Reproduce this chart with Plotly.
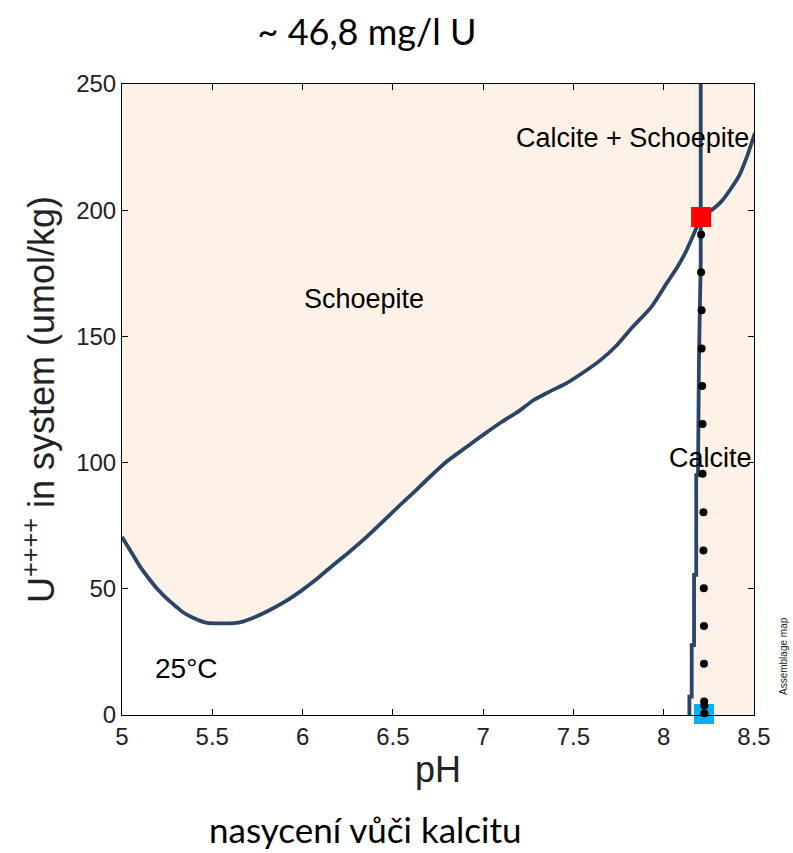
import plotly.graph_objects as go

# Schoepite saturation boundary (pH vs U in system)
ph_curve = [5.00, 5.044, 5.10, 5.155, 5.20, 5.247, 5.30, 5.339, 5.39, 5.43, 5.47, 5.55, 5.62,
            5.67, 5.71, 5.80, 5.90, 5.986, 6.08, 6.17, 6.26, 6.355, 6.45, 6.54, 6.62, 6.70,
            6.80, 6.91, 7.00, 7.10, 7.20, 7.28, 7.37, 7.46, 7.55, 7.65, 7.74, 7.83, 7.93,
            8.016, 8.08, 8.127, 8.16, 8.19, 8.207, 8.265, 8.32, 8.367, 8.42, 8.46, 8.505]
u_curve = [70.5, 65.4, 58.8, 53.5, 49.6, 46.2, 42.9, 40.6, 38.6, 37.4, 36.5, 36.3, 36.4,
           37.0, 38.0, 40.9, 44.8, 48.9, 54.0, 59.4, 64.7, 70.6, 77.0, 83.2, 88.5, 94.0,
           100.5, 106.3, 111.0, 116.0, 120.5, 124.8, 128.2, 131.4, 135.5, 140.6, 146.5, 153.9,
           161.5, 171.0, 178.0, 184.2, 189.5, 194.5, 197.4, 200.0, 203.5, 208.0, 214.0, 221.0,
           230.6]

# Calcite saturation boundary (near-vertical line)
ph_vline = [8.205, 8.205, 8.195, 8.19, 8.18, 8.18, 8.168, 8.168, 8.155, 8.155, 8.142, 8.142]
u_vline = [250, 180, 140, 95, 95, 55.5, 55.5, 27.7, 27.7, 7.3, 7.3, 0]

# Titration path points
ph_dots = [8.207, 8.207, 8.21, 8.21, 8.213, 8.215, 8.215, 8.22, 8.22, 8.222, 8.223,
           8.223, 8.224, 8.225, 8.225]
u_dots = [190.4, 175.4, 160.4, 145.2, 130.3, 115.3, 95.6, 80.3, 65.2, 50.2, 35.3,
          20.3, 5.3, 3.8, 0.7]

ph_red = [8.207]
u_red = [197.3]
ph_cyan = [8.223]
u_cyan = [0.4]

x_ticks = [5, 5.5, 6, 6.5, 7, 7.5, 8, 8.5]
x_ticktext = ["5", "5.5", "6", "6.5", "7", "7.5", "8", "8.5"]
y_ticks = [0, 50, 100, 150, 200, 250]

LINE = "#2B4569"
PEACH = "#FDF1E8"
FONT = "Liberation Sans, Arial, sans-serif"

# white (undersaturated) region polygon built from the boundaries
cut = max(i for i, x in enumerate(ph_curve) if x <= 8.19)
poly_x = ph_curve[:cut + 1] + [x for x, y in zip(ph_vline, u_vline) if y < u_curve[cut]] + [ph_curve[0]]
poly_y = u_curve[:cut + 1] + [y for y in u_vline if y < u_curve[cut]] + [0]

fig = go.Figure()
fig.add_trace(go.Scatter(x=poly_x, y=poly_y, fill="toself", fillcolor="white",
                         mode="none", hoverinfo="skip", showlegend=False))
fig.add_trace(go.Scatter(x=ph_curve, y=u_curve, mode="lines",
                         line=dict(color=LINE, width=3.8, shape="spline", smoothing=0.6),
                         showlegend=False))
fig.add_trace(go.Scatter(x=ph_vline, y=u_vline, mode="lines",
                         line=dict(color=LINE, width=3.8), showlegend=False))
fig.add_trace(go.Scatter(x=ph_red, y=u_red, mode="markers", cliponaxis=False,
                         marker=dict(color="#FF0000", size=20, symbol="square"), showlegend=False))
fig.add_trace(go.Scatter(x=ph_cyan, y=u_cyan, mode="markers", cliponaxis=False,
                         marker=dict(color="#00B0F0", size=20, symbol="square"), showlegend=False))
fig.add_trace(go.Scatter(x=ph_dots, y=u_dots, mode="markers", cliponaxis=False,
                         marker=dict(color="black", size=8), showlegend=False))

axis_common = dict(showline=True, linecolor="black", linewidth=1, mirror="ticks",
                   ticks="inside", ticklen=6, tickcolor="black", showgrid=False,
                   zeroline=False, tickfont=dict(family=FONT, size=24, color="#222"))

fig.update_xaxes(range=[5, 8.5], tickvals=x_ticks, ticktext=x_ticktext,
                 title=dict(text="pH", font=dict(family=FONT, size=36, color="#222"), standoff=8),
                 **axis_common)
fig.update_yaxes(range=[0, 250], tickvals=y_ticks,
                 title=dict(text="U<sup>++++</sup> in system (umol/kg)",
                            font=dict(family=FONT, size=36, color="#222"), standoff=10),
                 **axis_common)

ann_font = dict(family=FONT, size=27, color="black")
fig.add_annotation(x=6.34, y=164.8, text="Schoepite", showarrow=False, font=ann_font)
fig.add_annotation(x=7.826, y=228.7, text="Calcite + Schoepite", showarrow=False, font=ann_font)
fig.add_annotation(x=8.259, y=102, text="Calcite", showarrow=False, font=ann_font)
fig.add_annotation(x=5.357, y=18.4, text="25°C", showarrow=False,
                   font=dict(family=FONT, size=28, color="black"))

fig.add_annotation(xref="paper", yref="paper", x=(783 - 122) / 632, y=(715 - 656) / 631,
                   xanchor="center", yanchor="middle",
                   text="Assemblage map", textangle=-90, showarrow=False,
                   font=dict(family=FONT, size=10, color="#222"))
fig.add_annotation(xref="paper", yref="paper", x=(365 - 122) / 632, y=(715 - 829) / 631,
                   xanchor="center", yanchor="middle",
                   text="nasycení vůči kalcitu", showarrow=False,
                   font=dict(family="Lato, sans-serif", size=35, color="black"))

fig.update_layout(
    width=793, height=853,
    margin=dict(l=122, r=39, t=84, b=138),
    paper_bgcolor="white", plot_bgcolor=PEACH,
    title=dict(text="~ 46,8 mg/l U", xref="container", yref="container",
               x=367 / 793, y=1 - 32 / 853, xanchor="center", yanchor="middle",
               font=dict(family="Lato, sans-serif", size=36, color="black")),
)

fig.write_html("out.html")
